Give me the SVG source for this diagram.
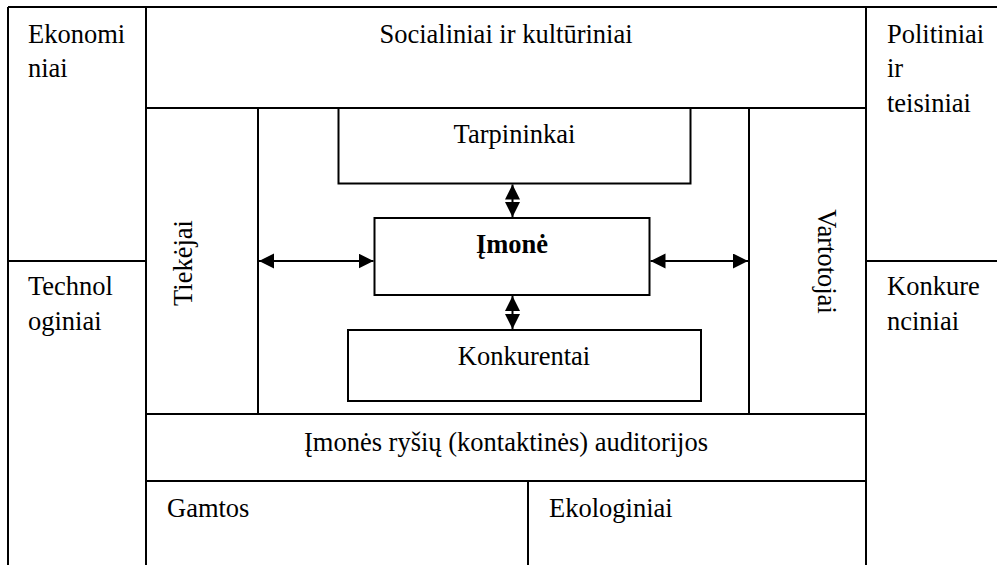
<svg xmlns="http://www.w3.org/2000/svg" width="997" height="565" viewBox="0 0 997 565">
  <defs>
    <marker id="head" markerUnits="userSpaceOnUse" markerWidth="16" markerHeight="16" refX="15" refY="7.5" orient="auto-start-reverse">
      <path d="M0,0 L15,7.5 L0,15 Z" fill="#000"/>
    </marker>
  </defs>
  <rect width="997" height="565" fill="#fff"/>

  <!-- frame of nested environment layers -->
  <g id="frame" fill="none" stroke="#000" stroke-width="2">
    <path d="M8 7 H997"/>
    <path d="M8 7 V565"/>
    <path d="M146 7 V565"/>
    <path d="M866 7 V565"/>
    <path d="M8 261 H146"/>
    <path d="M866 261 H997"/>
    <path d="M146 108 H866"/>
    <path d="M258 108 V414"/>
    <path d="M749 108 V414"/>
    <path d="M146 414 H866"/>
    <path d="M146 481 H866"/>
    <path d="M528 481 V565"/>
  </g>

  <g id="ekonominiai">
    <text x="28" y="43" style="font-family:'Liberation Serif','Times New Roman',serif;font-size:26.5px">Ekonomi</text>
    <text x="28" y="77" style="font-family:'Liberation Serif','Times New Roman',serif;font-size:26.5px">niai</text>
  </g>
  <g id="socialiniai">
    <text x="506" y="43" text-anchor="middle" style="font-family:'Liberation Serif','Times New Roman',serif;font-size:26.5px">Socialiniai ir kultūriniai</text>
  </g>
  <g id="politiniai">
    <text x="887" y="43" style="font-family:'Liberation Serif','Times New Roman',serif;font-size:26.5px">Politiniai</text>
    <text x="887" y="77" style="font-family:'Liberation Serif','Times New Roman',serif;font-size:26.5px">ir</text>
    <text x="887" y="112" style="font-family:'Liberation Serif','Times New Roman',serif;font-size:26.5px">teisiniai</text>
  </g>
  <g id="technologiniai">
    <text x="28" y="295" style="font-family:'Liberation Serif','Times New Roman',serif;font-size:26.5px">Technol</text>
    <text x="28" y="330" style="font-family:'Liberation Serif','Times New Roman',serif;font-size:26.5px">oginiai</text>
  </g>
  <g id="konkurenciniai">
    <text x="887" y="295" style="font-family:'Liberation Serif','Times New Roman',serif;font-size:26.5px">Konkure</text>
    <text x="887" y="330" style="font-family:'Liberation Serif','Times New Roman',serif;font-size:26.5px">nciniai</text>
  </g>
  <g id="tiekejai">
    <text transform="translate(192 263) rotate(-90)" text-anchor="middle" style="font-family:'Liberation Serif','Times New Roman',serif;font-size:26.5px">Tiekėjai</text>
  </g>
  <g id="vartotojai">
    <text transform="translate(818 261.5) rotate(90)" text-anchor="middle" style="font-family:'Liberation Serif','Times New Roman',serif;font-size:26.5px">Vartotojai</text>
  </g>
  <g id="tarpininkai">
    <rect x="338.5" y="108" width="352" height="75.5" fill="#fff" stroke="#000" stroke-width="2"/>
    <text x="514.5" y="143" text-anchor="middle" style="font-family:'Liberation Serif','Times New Roman',serif;font-size:26.5px">Tarpininkai</text>
  </g>
  <g id="imone">
    <rect x="374.5" y="218" width="275" height="77" fill="#fff" stroke="#000" stroke-width="2"/>
    <text x="512" y="253" text-anchor="middle" style="font-family:'Liberation Serif','Times New Roman',serif;font-size:26.5px;font-weight:bold">Įmonė</text>
  </g>
  <g id="konkurentai">
    <rect x="348" y="330" width="353" height="71" fill="#fff" stroke="#000" stroke-width="2"/>
    <text x="524" y="365" text-anchor="middle" style="font-family:'Liberation Serif','Times New Roman',serif;font-size:26.5px">Konkurentai</text>
  </g>
  <g id="auditorijos">
    <text x="506" y="451" text-anchor="middle" style="font-family:'Liberation Serif','Times New Roman',serif;font-size:26.5px">Įmonės ryšių (kontaktinės) auditorijos</text>
  </g>
  <g id="gamtos">
    <text x="167" y="517" style="font-family:'Liberation Serif','Times New Roman',serif;font-size:26.5px">Gamtos</text>
  </g>
  <g id="ekologiniai">
    <text x="549" y="517" style="font-family:'Liberation Serif','Times New Roman',serif;font-size:26.5px">Ekologiniai</text>
  </g>

  <!-- two-way links between the company and its surroundings -->
  <g id="connectors" stroke="#000" stroke-width="2" marker-start="url(#head)" marker-end="url(#head)">
    <line x1="259" y1="261" x2="373.5" y2="261"/>
    <line x1="650.5" y1="261" x2="748" y2="261"/>
    <line x1="512.5" y1="184.5" x2="512.5" y2="217"/>
    <line x1="512.5" y1="296" x2="512.5" y2="329"/>
  </g>
</svg>
